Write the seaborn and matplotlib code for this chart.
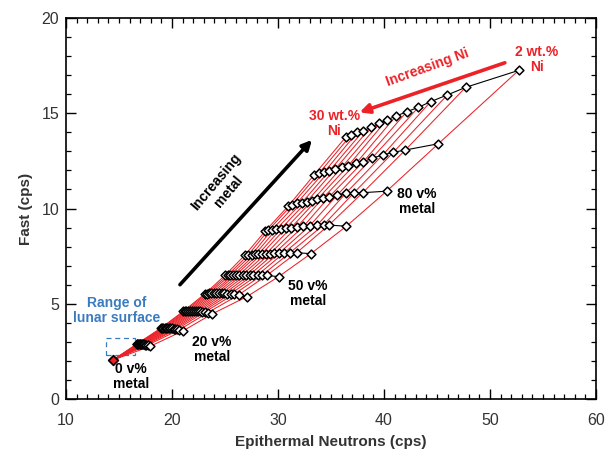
import numpy as np
import pandas as pd
import matplotlib
matplotlib.use("Agg")
import matplotlib.pyplot as plt
import seaborn as sns

# ---------------- data ----------------
metal_pct = [0, 10, 20, 30, 40, 50, 60, 70, 80, 90, 100]
ni_wt = [30, 28, 26, 24, 22, 20, 18, 16, 14, 12, 10, 8, 5, 2]

epi_0 = [14.45] * 14
fast_0 = [2.05] * 14
epi_10 = [16.65, 16.72, 16.79, 16.86, 16.94, 17.02, 17.10, 17.18, 17.27, 17.36, 17.46, 17.56, 17.70, 17.95]
fast_10 = [2.88, 2.88, 2.89, 2.89, 2.89, 2.89, 2.89, 2.88, 2.88, 2.87, 2.86, 2.85, 2.83, 2.77]
epi_20 = [18.95, 19.06, 19.18, 19.30, 19.43, 19.56, 19.70, 19.84, 19.99, 20.14, 20.30, 20.47, 20.70, 21.02]
fast_20 = [3.72, 3.73, 3.73, 3.73, 3.73, 3.73, 3.72, 3.72, 3.71, 3.70, 3.69, 3.67, 3.64, 3.57]
epi_30 = [21.05, 21.20, 21.36, 21.52, 21.69, 21.87, 22.05, 22.24, 22.44, 22.65, 22.87, 23.10, 23.40, 23.80]
fast_30 = [4.60, 4.61, 4.61, 4.62, 4.62, 4.62, 4.62, 4.61, 4.61, 4.60, 4.59, 4.57, 4.54, 4.47]
epi_40 = [23.10, 23.28, 23.48, 23.70, 23.93, 24.17, 24.42, 24.68, 24.95, 25.23, 25.52, 25.85, 26.30, 27.05]
fast_40 = [5.52, 5.53, 5.54, 5.54, 5.55, 5.55, 5.55, 5.55, 5.54, 5.53, 5.52, 5.50, 5.47, 5.37]
epi_50 = [25.00, 25.25, 25.50, 25.78, 26.05, 26.35, 26.65, 26.98, 27.32, 27.68, 28.10, 28.52, 28.95, 30.05]
fast_50 = [6.49, 6.50, 6.51, 6.51, 6.52, 6.52, 6.52, 6.52, 6.52, 6.52, 6.52, 6.51, 6.49, 6.42]
epi_60 = [26.89, 27.20, 27.52, 27.83, 28.14, 28.46, 28.87, 29.25, 29.65, 30.12, 30.57, 31.13, 31.76, 33.10]
fast_60 = [7.56, 7.57, 7.58, 7.59, 7.60, 7.61, 7.62, 7.63, 7.64, 7.66, 7.67, 7.68, 7.68, 7.63]
epi_70 = [28.80, 29.09, 29.45, 29.85, 30.30, 30.75, 31.25, 31.80, 32.40, 33.00, 33.70, 34.30, 34.80, 36.45]
fast_70 = [8.82, 8.86, 8.89, 8.92, 8.95, 8.98, 9.00, 9.03, 9.06, 9.10, 9.13, 9.14, 9.13, 9.07]
epi_80 = [30.97, 31.29, 31.76, 32.24, 32.71, 33.24, 33.71, 34.22, 34.84, 35.59, 36.39, 37.17, 37.99, 40.25]
fast_80 = [10.13, 10.18, 10.27, 10.30, 10.36, 10.41, 10.48, 10.54, 10.62, 10.71, 10.80, 10.83, 10.83, 10.91]
epi_90 = [33.40, 33.87, 34.34, 34.84, 35.38, 36.01, 36.63, 37.36, 38.05, 38.84, 39.88, 40.88, 42.01, 45.13]
fast_90 = [11.76, 11.85, 11.90, 11.97, 12.06, 12.16, 12.25, 12.37, 12.46, 12.63, 12.81, 12.95, 13.07, 13.40]
epi_100 = [36.42, 36.89, 37.48, 38.05, 38.74, 39.56, 40.25, 41.10, 42.14, 43.24, 44.40, 45.97, 47.70, 52.70]
fast_100 = [13.77, 13.86, 14.00, 14.08, 14.26, 14.47, 14.65, 14.84, 15.08, 15.31, 15.61, 15.96, 16.36, 17.25]

epi_rows = [epi_0, epi_10, epi_20, epi_30, epi_40, epi_50, epi_60, epi_70, epi_80, epi_90, epi_100]
fast_rows = [fast_0, fast_10, fast_20, fast_30, fast_40, fast_50, fast_60, fast_70, fast_80, fast_90, fast_100]

lunar_box_x = [13.8, 16.55]
lunar_box_y = [2.3, 3.2]

records = []
for m, ex, fy in zip(metal_pct, epi_rows, fast_rows):
    for n, x, y in zip(ni_wt, ex, fy):
        records.append({"metal": m, "ni": n, "epi": x, "fast": y})
df = pd.DataFrame(records)

# ---------------- style ----------------
sns.set_style("ticks")
plt.rcParams["font.family"] = ["Liberation Sans", "DejaVu Sans"]

RED = "#ec2227"
BLUE = "#3a7bc0"
GREY = "#333333"

fig = plt.figure(figsize=(6.13, 4.57), dpi=100)
ax = fig.add_axes([0.1077, 0.1269, 0.8646, 0.8337])

# red lines: constant Ni, increasing metal
sns.lineplot(data=df, x="epi", y="fast", units="ni", estimator=None, sort=False,
             color=RED, lw=0.75, ax=ax, legend=False, zorder=2)
# black lines: constant metal, varying Ni
sns.lineplot(data=df[df["metal"] > 0], x="epi", y="fast", units="metal", estimator=None,
             sort=False, color="black", lw=0.8, ax=ax, legend=False, zorder=3)
# markers
sns.scatterplot(data=df[df["metal"] > 0], x="epi", y="fast", marker="D", s=20,
                facecolor="white", edgecolor="black", linewidth=1.1, ax=ax,
                legend=False, zorder=4)
sns.scatterplot(data=df[df["metal"] == 0].head(1), x="epi", y="fast", marker="D", s=24,
                facecolor=RED, edgecolor="black", linewidth=1.3, ax=ax,
                legend=False, zorder=5)

# lunar surface box
ax.add_patch(plt.Rectangle((lunar_box_x[0], lunar_box_y[0]),
                           lunar_box_x[1] - lunar_box_x[0], lunar_box_y[1] - lunar_box_y[0],
                           fill=False, edgecolor=BLUE, lw=0.9, ls=(0, (4, 3)), zorder=1))

# axes settings
ax.set_xlim(10, 60)
ax.set_ylim(0, 20)
ax.set_xticks(np.arange(10, 61, 10))
ax.set_yticks(np.arange(0, 21, 5))
ax.set_xticks(np.arange(10, 61, 1), minor=True)
ax.set_yticks(np.arange(0, 21, 1), minor=True)
ax.tick_params(which="both", direction="in", top=True, right=True, colors="black",
               labelcolor=GREY, labelsize=11.5)
ax.tick_params(which="major", length=7, width=1.0)
ax.tick_params(which="minor", length=3.5, width=0.9)
ax.tick_params(axis="x", which="major", pad=10)
ax.tick_params(axis="y", which="major", pad=5)
for sp in ax.spines.values():
    sp.set_linewidth(1.2)
    sp.set_color("black")
    sp.set_visible(True)

ax.set_xlabel("Epithermal Neutrons (cps)", fontsize=11, fontweight="bold", color=GREY, labelpad=5)
ax.set_ylabel("Fast (cps)", fontsize=11, fontweight="bold", color=GREY, labelpad=6)

# annotations
ax.text(14.75, 4.65, "Range of\nlunar surface", color=BLUE, fontsize=10, fontweight="bold",
        ha="center", va="center", linespacing=1.1)
ax.text(16.1, 1.2, "0 v%\nmetal", color="black", fontsize=10, fontweight="bold",
        ha="center", va="center", linespacing=1.1)
ax.text(23.75, 2.6, "20 v%\nmetal", color="black", fontsize=10, fontweight="bold",
        ha="center", va="center", linespacing=1.1)
ax.text(32.8, 5.55, "50 v%\nmetal", color="black", fontsize=10, fontweight="bold",
        ha="center", va="center", linespacing=1.1)
ax.text(43.1, 10.38, "80 v%\nmetal", color="black", fontsize=10, fontweight="bold",
        ha="center", va="center", linespacing=1.1)
ax.text(35.3, 14.45, "30 wt.%\nNi", color=RED, fontsize=10, fontweight="bold",
        ha="center", va="center", linespacing=1.1)
ax.text(54.4, 17.84, "2 wt.%\nNi", color=RED, fontsize=10, fontweight="bold",
        ha="center", va="center", linespacing=1.1)
ax.text(44.1, 17.4, "Increasing Ni", color=RED, fontsize=10, fontweight="bold",
        ha="center", va="center", rotation=20)
ax.text(24.75, 11.15, "Increasing\nmetal", color="black", fontsize=10, fontweight="bold",
        ha="center", va="center", rotation=50, linespacing=1.1)

ax.annotate("", xy=(37.7, 15.05), xytext=(51.4, 17.65),
            arrowprops=dict(arrowstyle="-|>", lw=2.6, color=RED, mutation_scale=14,
                            shrinkA=0, shrinkB=0))
ax.annotate("", xy=(33.2, 13.6), xytext=(20.75, 6.0),
            arrowprops=dict(arrowstyle="-|>", lw=2.6, color="black", mutation_scale=14,
                            shrinkA=0, shrinkB=0))

fig.savefig("out.png", dpi=100)
